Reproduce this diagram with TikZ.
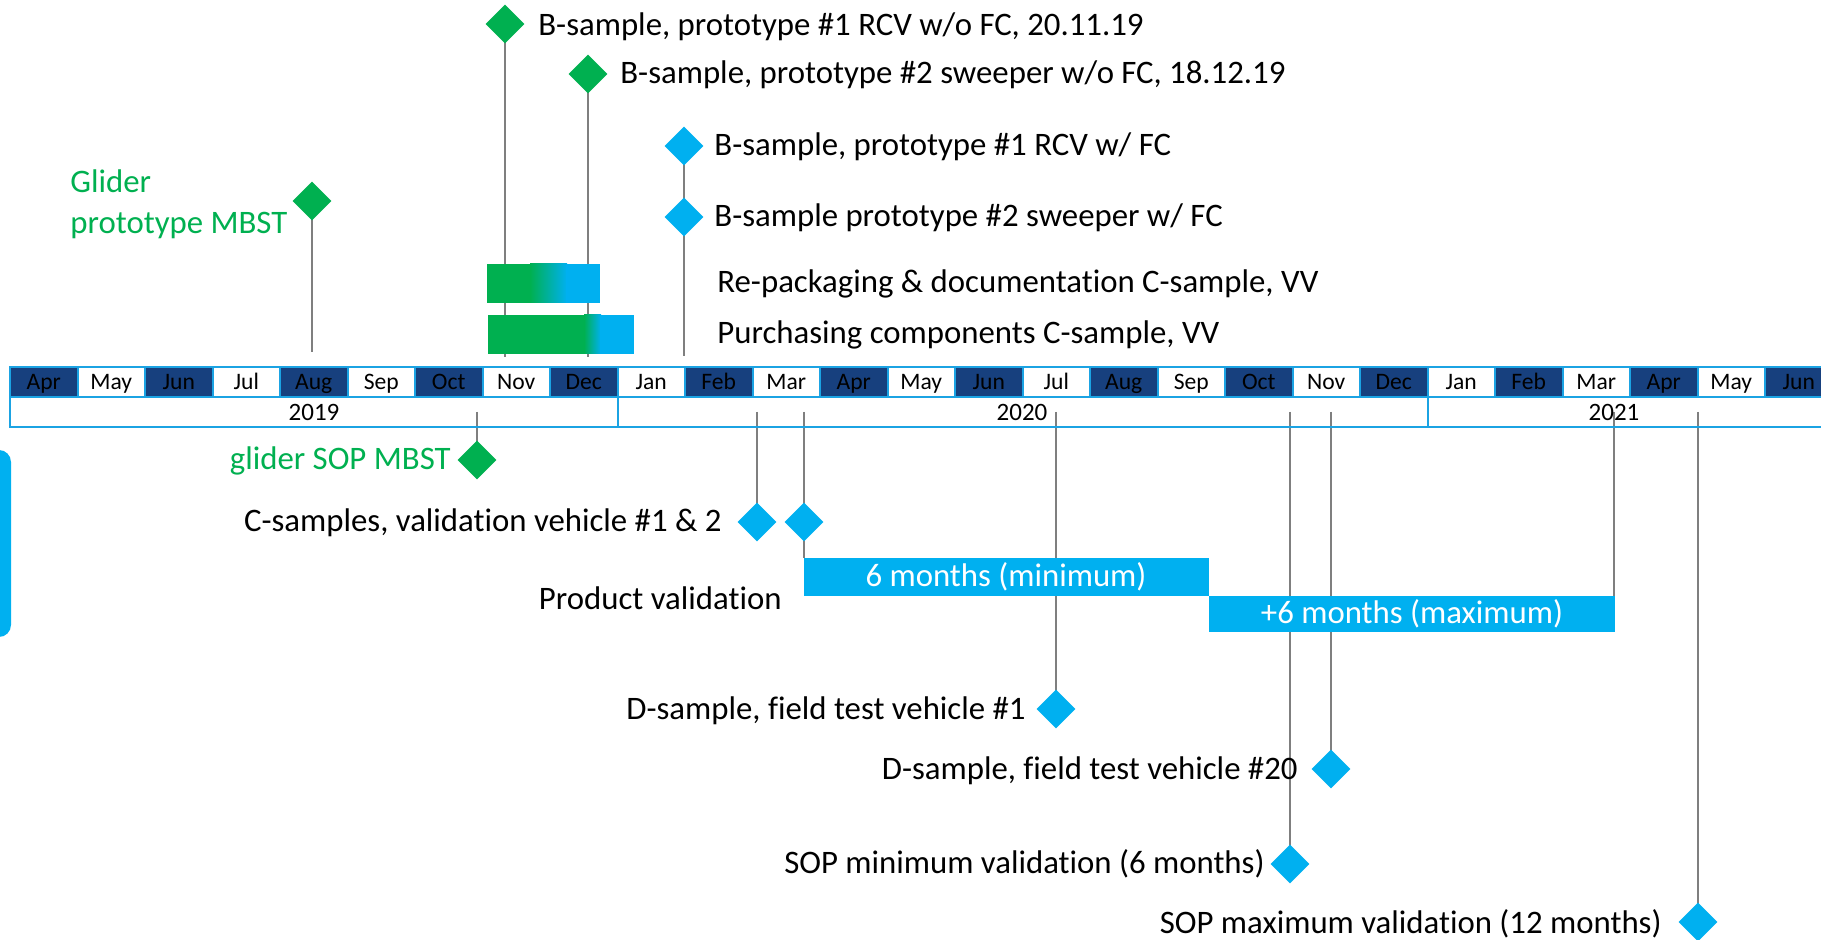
\documentclass[tikz,border=0pt]{standalone}
\usepackage{fontspec}
\setmainfont{Carlito}[Ligatures=NoCommon]
\usetikzlibrary{shapes.geometric}
\pgfdeclarelayer{bg}
\pgfsetlayers{bg,main}
\definecolor{navy}{HTML}{17407E}
\definecolor{cyanb}{HTML}{00B0F0}
\definecolor{cellb}{HTML}{1BA3E3}
\definecolor{grn}{HTML}{00B050}
\definecolor{gline}{HTML}{7F7F7F}
\begin{document}
\begin{tikzpicture}[x=0.5pt,y=-0.5pt,
  vline/.style={draw=gline, line width=0.9pt},
  ms/.style={shape=diamond, inner sep=0pt, minimum width=19.5pt, minimum height=19.5pt},
  gms/.style={ms, fill=grn},
  bms/.style={ms, fill=cyanb},
  lab/.style={font=\fontsize{16.4}{19}\selectfont, inner sep=0pt},
  monthcell/.style={draw=cellb, line width=1pt, minimum width=33.75pt, minimum height=15pt, inner sep=0pt, text height=8pt, text depth=0pt, font=\fontsize{11.8}{13}\selectfont},
  yearlab/.style={font=\fontsize{12.5}{14}\selectfont, inner sep=0pt}]
\useasboundingbox (0,0) rectangle (1821,940);
\begin{pgfonlayer}{bg}
\fill[white] (0,0) rectangle (1821,940);
\end{pgfonlayer}

% left partial shape
\fill[cyanb, rounded corners=6pt] (-40,450) rectangle (11,637);

% ---- bars (gradients)
\fill[grn] (487,264) rectangle (531,303);
\shade[left color=grn, right color=cyanb] (530,264) rectangle (567,303);
\fill[cyanb] (566,264) rectangle (600,303);
\fill[grn] (488,315) rectangle (585,354);
\shade[left color=grn, right color=cyanb] (584,315) rectangle (601,354);
\fill[cyanb] (600,315) rectangle (634,354);

% ---- timeline months
\foreach \m [count=\i from 0] in {Apr,May,Jun,Jul,Aug,Sep,Oct,Nov,Dec,Jan,Feb,Mar,Apr,May,Jun,Jul,Aug,Sep,Oct,Nov,Dec,Jan,Feb,Mar,Apr,May,Jun} {
  \ifodd\i \def\cellfill{white}\else\def\cellfill{navy}\fi
  \node[monthcell, fill=\cellfill] (m\i) at ({10+67.5*\i+33.75},382) {\m};
}
% ---- years
\draw[draw=cellb, line width=1pt] (10,397) rectangle (618,427);
\draw[draw=cellb, line width=1pt] (618,397) rectangle (1427.5,427);
\draw[draw=cellb, line width=1pt] (1427.5,397) rectangle (1850,427);
\node[yearlab, anchor=base] (y19) at (314,421) {2019};
\node[yearlab, anchor=base] (y20) at (1022,421) {2020};
\node[yearlab, anchor=base] (y21) at (1614,421) {2021};

% ---- validation bars
\fill[cyanb] (804,558) rectangle (1209,596);
\fill[cyanb] (1209,596) rectangle (1615,632);
\node[lab, white, anchor=base] (minl) at (1006,587) {6 months (minimum)};
\node[lab, white, anchor=base] (maxl) at (1412,624) {+6 months (maximum)};

% ---- diamonds (milestones)
\node[gms] (gp) at (312,201) {};
\node[gms] (b1) at (505,24) {};
\node[gms] (b2) at (588,74) {};
\node[bms] (b3) at (684,146) {};
\node[bms] (b4) at (684,217) {};
\node[gms] (gs) at (477,460) {};
\node[bms] (c1) at (757,522) {};
\node[bms] (c2) at (804,522) {};
\node[bms] (d1) at (1056,709) {};
\node[bms] (d20) at (1331,769) {};
\node[bms] (smin) at (1290,864) {};
\node[bms] (smax) at (1698,922) {};

% ---- anchor coordinates on the timeline
\coordinate (tgp) at (312,352);
\coordinate (tb1) at (505,357);
\coordinate (tb2) at (588,357);
\coordinate (tb3) at (684,356);
\coordinate (tgs) at (477,412);
\coordinate (tc1) at (757,412);
\coordinate (tc2) at (804,412);
\coordinate (tc2b) at (804,558);
\coordinate (td1) at (1056,412);
\coordinate (td20) at (1331,412);
\coordinate (tsmin) at (1290,412);
\coordinate (tsmax) at (1698,412);
\coordinate (tmx) at (1614,412);
\coordinate (tmxb) at (1614,596);

% ---- connectors (behind)
\begin{pgfonlayer}{bg}
\draw[vline] (gp.center) -- (tgp);
\draw[vline] (b1.center) -- (tb1);
\draw[vline] (b2.center) -- (tb2);
\draw[vline] (b3.center) -- (tb3);
\draw[vline] (tgs) -- (gs.center);
\draw[vline] (tc1) -- (c1.center);
\draw[vline] (tc2) -- (tc2b);
\draw[vline] (td1) -- (d1.center);
\draw[vline] (td20) -- (d20.center);
\draw[vline] (tsmin) -- (smin.center);
\draw[vline] (tsmax) -- (smax.center);
\draw[vline] (tmx) -- (tmxb);
\end{pgfonlayer}

% ---- labels
\node[lab, anchor=base west] (lb1) at (538,36) {B-sample, prototype \#1 RCV w/o FC, 20.11.19};
\node[lab, anchor=base west] (lb2) at (620,84) {B-sample, prototype \#2 sweeper w/o FC, 18.12.19};
\node[lab, anchor=base west] (lb3) at (714,156) {B-sample, prototype \#1 RCV w/ FC};
\node[lab, anchor=base west] (lb4) at (714,227) {B-sample prototype \#2 sweeper w/ FC};
\node[lab, anchor=base west] (lrp) at (717,293) {Re-packaging \& documentation C-sample, VV};
\node[lab, anchor=base west] (lpc) at (717,344) {Purchasing components C-sample, VV};
\node[lab, anchor=base west, text=grn] (lg1) at (70,193) {Glider};
\node[lab, anchor=base west, text=grn] (lg2) at (70,234) {prototype MBST};
\node[lab, anchor=base east, text=grn] (lgs) at (451,470) {glider SOP MBST};
\node[lab, anchor=base east] (lc) at (722,532) {C-samples, validation vehicle \#1 \& 2};
\node[lab, anchor=base east] (lpv) at (782,610) {Product validation};
\node[lab, anchor=base east] (ld1) at (1026,719) {D-sample, field test vehicle \#1};
\node[lab, anchor=base east] (ld20) at (1298,779) {D-sample, field test vehicle \#20};
\node[lab, anchor=base east] (lsmin) at (1265,873) {SOP minimum validation (6 months)};
\node[lab, anchor=base east] (lsmax) at (1662,933) {SOP maximum validation (12 months)};
\end{tikzpicture}
\end{document}
